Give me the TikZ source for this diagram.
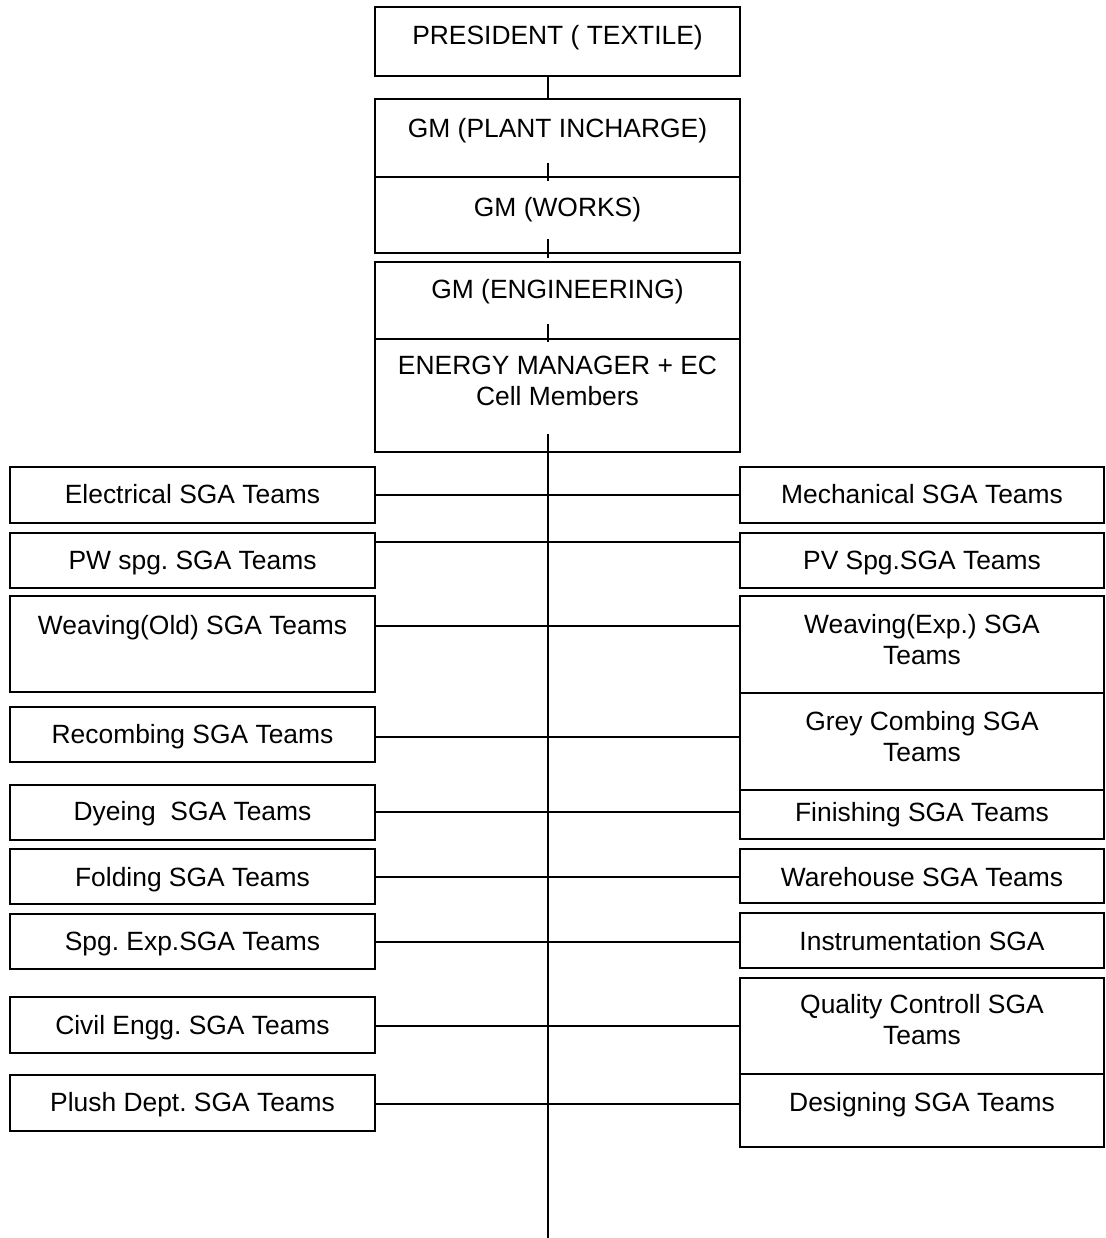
\documentclass[tikz,border=0pt]{standalone}
\usepackage{fontspec}
\setmainfont{Liberation Sans}
\usetikzlibrary{calc}
\frenchspacing
\newcommand{\ph}{\vphantom{(}}
\tikzset{
  x=1pt, y=-1pt,
  box/.style={draw=black, line width=1.9pt, fill=white, rectangle, inner sep=0pt},
  txt/.style={inner sep=0pt, align=center, yshift=-2.6pt, font=\fontsize{26.4}{31}\selectfont},
  conn/.style={draw=black, line width=1.9pt},
}
\newcommand{\bx}[5]{% name, cx, cy, w, h
  \node[box, minimum width=#4pt, minimum height=#5pt] (#1) at (#2,#3) {};}
\begin{document}
\begin{tikzpicture}
\useasboundingbox (0,0) rectangle (1105,1238);
\fill[white] (0,0) rectangle (1105,1238);
\coordinate (spine) at (548,0);
\coordinate (bottom) at (548,1238);

% top column
\bx{pres}{557.5}{41.5}{365}{69}
\node[txt] (tpres) at (557.5,35.5) {\ph PRESIDENT ( TEXTILE)};

\draw[conn] (pres.south -| spine) -- ($(pres.south -| spine)+(0,23)$) coordinate (plantin);

\bx{plant}{557.5}{138}{365}{78}
\bx{works}{557.5}{215}{365}{76}
\bx{eng}{557.5}{300.5}{365}{77}
\bx{em}{557.5}{395.5}{365}{113}

\node[txt] (tplant) at (557.5,128) {\ph GM (PLANT INCHARGE)};
\node[txt] (tworks) at (557.5,207) {\ph GM (WORKS)};
\node[txt] (teng) at (557.5,289) {\ph GM (ENGINEERING)};
\node[txt] (tem) at (557.5,381) {\ph ENERGY MANAGER + EC\\\ph Cell Members};

\draw[conn] ($(plant.south -| spine)+(0,-15)$) -- ($(works.north -| spine)+(0,5)$);
\draw[conn] ($(works.south -| spine)+(0,-15)$) -- ($(eng.north -| spine)+(0,-3)$);
\draw[conn] ($(eng.south -| spine)+(0,-16)$) -- ($(em.north -| spine)+(0,4)$);
\draw[conn] ($(em.south -| spine)+(0,-19)$) -- (bottom);

% row junctions on the spine
\coordinate (r1) at (548,495);
\coordinate (r2) at (548,542);
\coordinate (r3) at (548,626);
\coordinate (r4) at (548,737);
\coordinate (r5) at (548,812);
\coordinate (r6) at (548,877);
\coordinate (r7) at (548,942);
\coordinate (r8) at (548,1026);
\coordinate (r9) at (548,1104);

% left boxes
\bx{elec}{192.5}{495}{365}{56}
\bx{pw}{192.5}{560.5}{365}{55}
\bx{wold}{192.5}{644}{365}{96}
\bx{recomb}{192.5}{734.5}{365}{55}
\bx{dye}{192.5}{812.5}{365}{55}
\bx{fold}{192.5}{876.5}{365}{55}
\bx{spg}{192.5}{941.5}{365}{55}
\bx{civil}{192.5}{1025}{365}{56}
\bx{plush}{192.5}{1103}{365}{56}

\node[txt] (telec) at (192.5,494) {\ph Electrical SGA Teams};
\node[txt] (tpw) at (192.5,560) {\ph PW spg. SGA Teams};
\node[txt] (twold) at (192.5,625) {\ph Weaving(Old) SGA Teams};
\node[txt] (trecomb) at (192.5,734) {\ph Recombing SGA Teams};
\node[txt] (tdye) at (192.5,811) {\ph Dyeing\ \ SGA Teams};
\node[txt] (tfold) at (192.5,877) {\ph Folding SGA Teams};
\node[txt] (tspg) at (192.5,941) {\ph Spg. Exp.SGA Teams};
\node[txt] (tcivil) at (192.5,1025) {\ph Civil Engg. SGA Teams};
\node[txt] (tplush) at (192.5,1102) {\ph Plush Dept. SGA Teams};

% right boxes
\bx{mech}{922}{495}{364}{56}
\bx{pv}{922}{560.5}{364}{55}
\bx{wexp}{922}{644.5}{364}{97}
\bx{grey}{922}{741.5}{364}{97}
\bx{fin}{922}{814.5}{364}{49}
\bx{ware}{922}{876}{364}{54}
\bx{instr}{922}{940.5}{364}{55}
\bx{qc}{922}{1026}{364}{96}
\bx{des}{922}{1110.5}{364}{73}

\node[txt] (tmech) at (922,494) {\ph Mechanical SGA Teams};
\node[txt] (tpv) at (922,560) {\ph PV Spg.SGA Teams};
\node[txt] (twexp) at (922,640) {\ph Weaving(Exp.) SGA\\\ph Teams};
\node[txt] (tgrey) at (922,736.5) {\ph Grey Combing SGA\\\ph Teams};
\node[txt] (tfin) at (922,812) {\ph Finishing SGA Teams};
\node[txt] (tware) at (922,877) {\ph Warehouse SGA Teams};
\node[txt] (tinstr) at (922,941) {\ph Instrumentation SGA};
\node[txt] (tqc) at (922,1020) {\ph Quality Controll SGA\\\ph Teams};
\node[txt] (tdes) at (922,1102) {\ph Designing SGA Teams};

% horizontal connectors
\draw[conn] (elec.east |- r1) -- (mech.west |- r1);
\draw[conn] (pw.east |- r2) -- (pv.west |- r2);
\draw[conn] (wold.east |- r3) -- (wexp.west |- r3);
\draw[conn] (recomb.east |- r4) -- (grey.west |- r4);
\draw[conn] (dye.east |- r5) -- (fin.west |- r5);
\draw[conn] (fold.east |- r6) -- (ware.west |- r6);
\draw[conn] (spg.east |- r7) -- (instr.west |- r7);
\draw[conn] (civil.east |- r8) -- (qc.west |- r8);
\draw[conn] (plush.east |- r9) -- (des.west |- r9);
\end{tikzpicture}
\end{document}
